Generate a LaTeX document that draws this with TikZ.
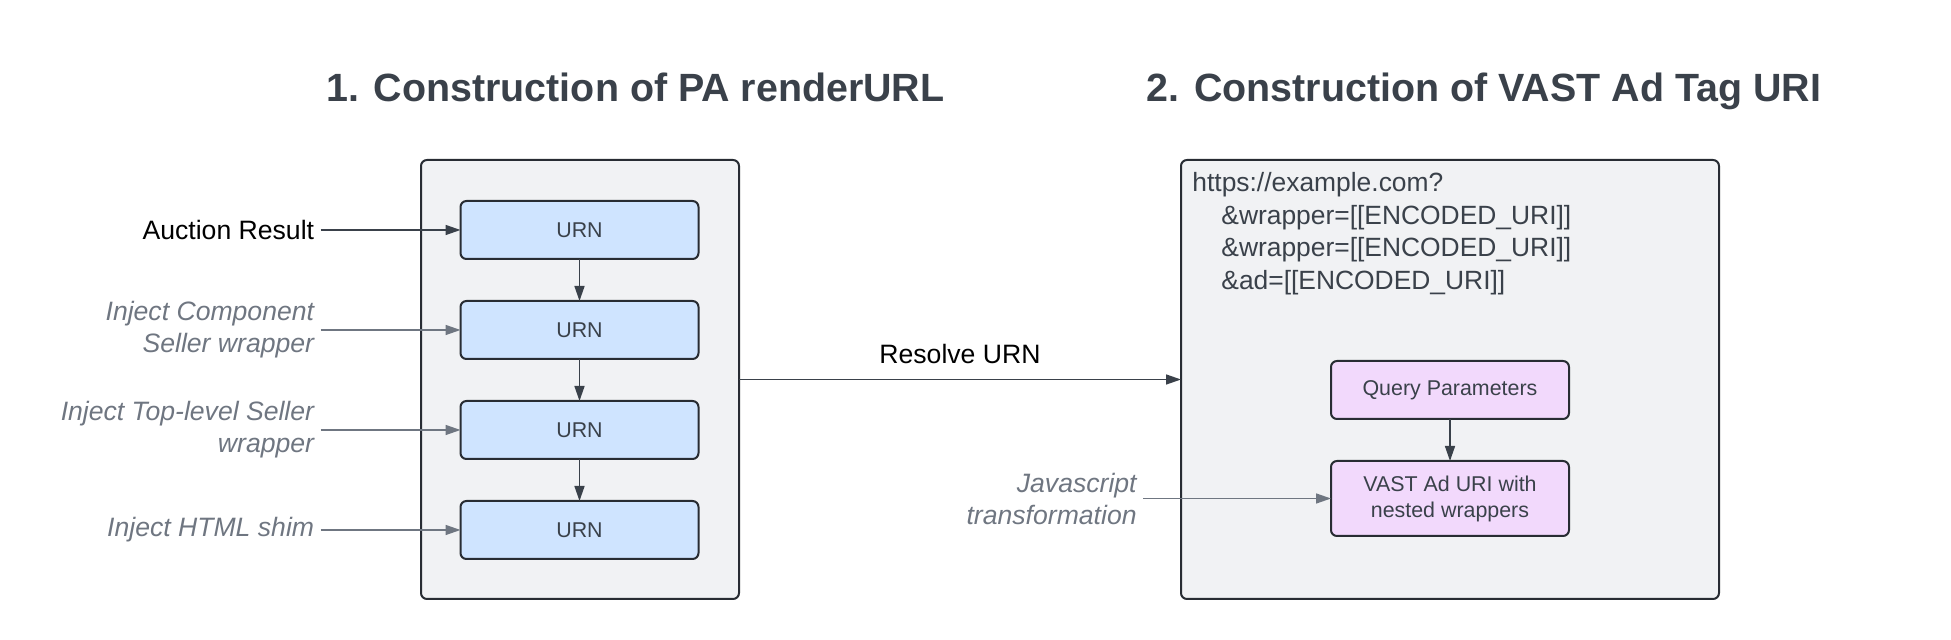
\documentclass[tikz,border=0pt]{standalone}
\usepackage{fontspec}
\setmainfont{Liberation Sans}
\usetikzlibrary{positioning,arrows.meta}
\definecolor{ink}{HTML}{3A414A}
\definecolor{edge}{HTML}{282C33}
\definecolor{hint}{HTML}{6F7681}
\definecolor{panelgray}{HTML}{F1F2F4}
\definecolor{urnblue}{HTML}{CFE4FF}
\definecolor{vastpink}{HTML}{F2D9FC}
\begin{document}
\begin{tikzpicture}[x=0.5pt,y=-0.5pt,node distance=21pt,>={Triangle[length=7.5pt,width=5pt]}]
\tikzstyle{panel}=[draw=edge,fill=panelgray,line width=1pt,rounded corners=3pt,inner sep=0pt,outer sep=0pt]
\tikzstyle{urn}=[draw=edge,fill=urnblue,line width=1pt,rounded corners=3pt,minimum width=119pt,minimum height=29pt,inner sep=0pt,outer sep=0pt,text=ink,font=\fontsize{10.7}{13}\selectfont,align=center]
\tikzstyle{vast}=[urn,fill=vastpink]
\tikzstyle{title}=[anchor=base,text=ink,font=\fontsize{19.7}{24}\bfseries\selectfont]
\tikzstyle{inject}=[align=right,inner sep=3pt,text=hint,font=\fontsize{13.3}{16}\itshape\selectfont]
\tikzstyle{feed}=[->,draw=hint,line width=0.75pt]
\tikzstyle{flow}=[->,draw=ink,line width=0.75pt]
\useasboundingbox (0,0) rectangle (1951,640);
\node[title] (t1) at (635.5,102) {1. Construction of PA renderURL};
\node[title] (t2) at (1484,102) {2. Construction of VAST Ad Tag URI};
\node (pa) [panel,minimum width=159pt,minimum height=219.5pt] at (580,379.5) {};
\node (tag) [panel,minimum width=269pt,minimum height=219.5pt] at (1450,379.5) {};
\node (u1) [urn] at (579.5,230) {URN};
\node (u2) [urn,below=of u1] {URN};
\node (u3) [urn,below=of u2] {URN};
\node (u4) [urn,below=of u3] {URN};
\node (res) [inject,text=black,font=\fontsize{13.3}{16}\selectfont,left=70pt of u1] {Auction Result};
\node (comp) [inject,left=70pt of u2] {Inject Component\\Seller wrapper};
\node (top) [inject,left=70pt of u3] {Inject Top-level Seller\\wrapper};
\node (shim) [inject,left=70pt of u4] {Inject HTML shim};
\node (url) [anchor=north west,inner sep=0pt,align=left,text=ink,font=\fontsize{13.2}{16.25}\selectfont] at (1192,172)
{https://example.com?\\\hspace*{14.5pt}\&wrapper=[[ENCODED\_URI]]\\\hspace*{14.5pt}\&wrapper=[[ENCODED\_URI]]\\\hspace*{14.5pt}\&ad=[[ENCODED\_URI]]};
\node (qp) [vast] at (1450,390) {Query Parameters};
\node (ad) [vast,minimum height=37.5pt,below=of qp] {VAST Ad URI with\\nested wrappers};
\node (js) [inject,left=94pt of ad] {Javascript\\transformation};
\draw[flow] (res) -- (u1);
\draw[feed] (comp) -- (u2);
\draw[feed] (top) -- (u3);
\draw[feed] (shim) -- (u4);
\draw[flow] (u1) -- (u2);
\draw[flow] (u2) -- (u3);
\draw[flow] (u3) -- (u4);
\draw[flow] (pa) -- (tag) node[midway,above=4pt,text=black,font=\fontsize{13.3}{16}\selectfont] {Resolve URN};
\draw[flow] (qp) -- (ad);
\draw[feed] (js) -- (ad);
\end{tikzpicture}
\end{document}
